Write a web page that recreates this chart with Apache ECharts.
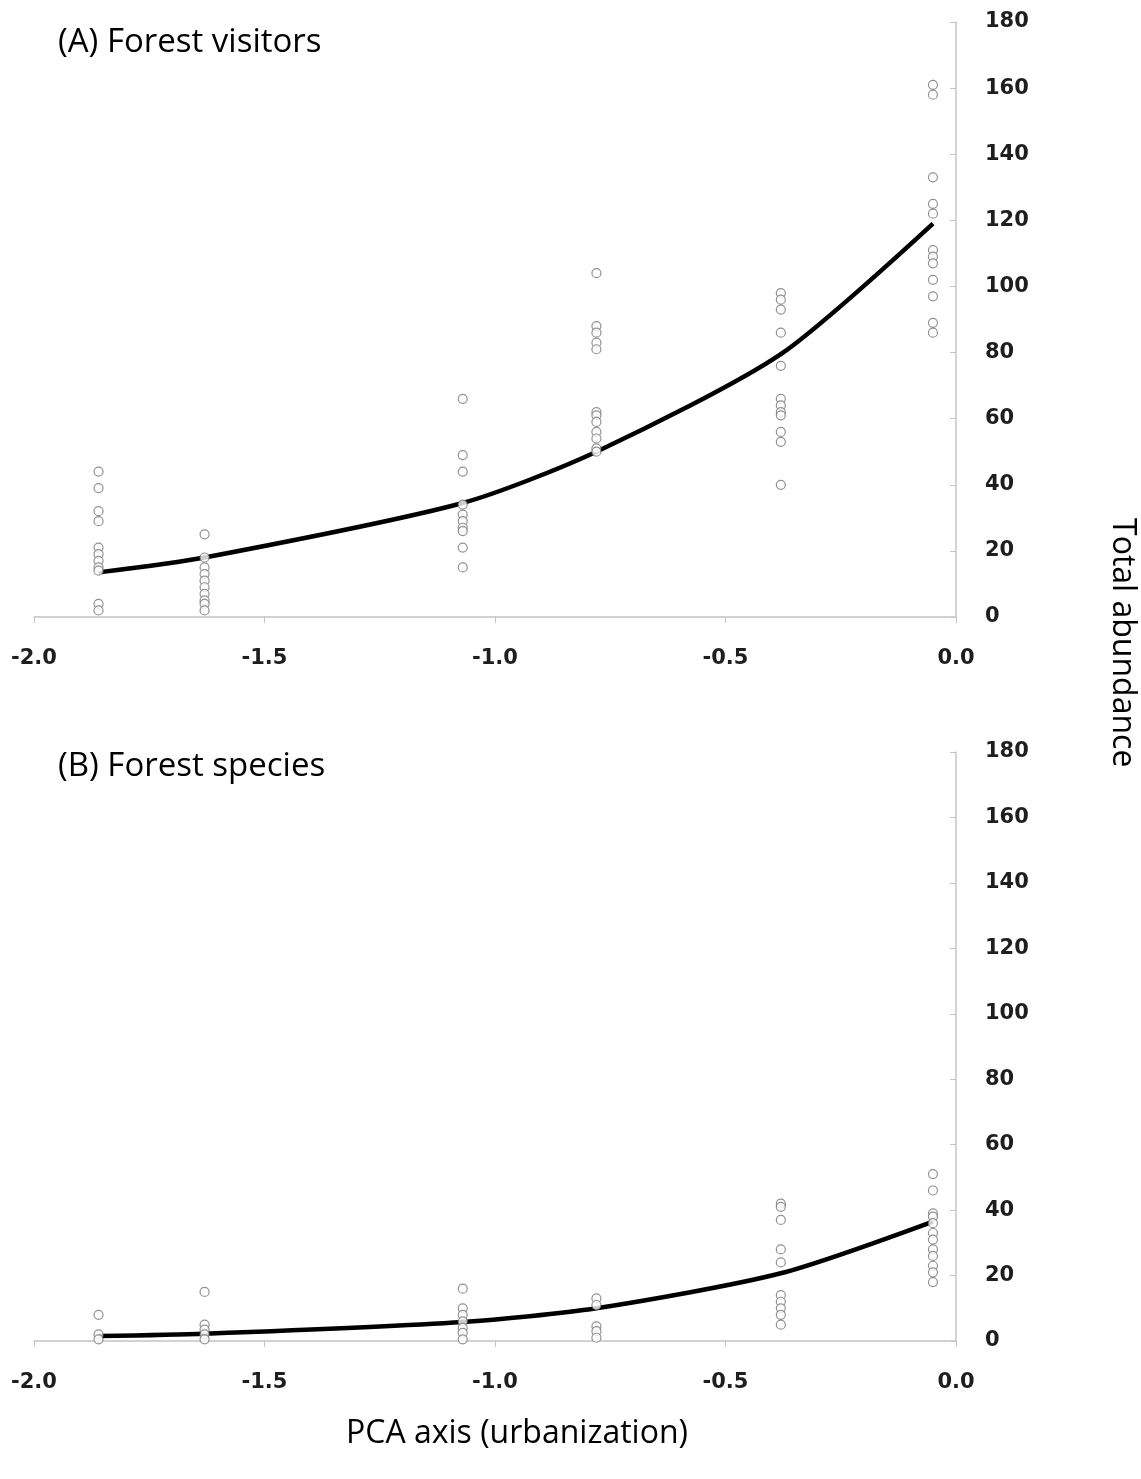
<!DOCTYPE html>
<html>
<head>
<meta charset="utf-8">
<script src="https://cdn.jsdelivr.net/npm/echarts@6/dist/echarts.min.js"></script>
<style>
  html, body { margin: 0; padding: 0; background: #fff; }
  #chart { width: 1141px; height: 1479px; }
</style>
</head>
<body>
<div id="chart"></div>
<script>
// PCA positions of the six site groups
const sitePca = [-1.86, -1.63, -1.07, -0.78, -0.38, -0.05];

// (A) forest visitors, observed abundances per site group
const visitorsObs = [
  [44, 39, 32, 29, 21, 19, 17, 15, 14, 4, 2],
  [25, 18, 15, 13, 11, 9, 7, 5, 4, 2],
  [66, 49, 44, 34, 31, 29, 27, 26, 21, 15],
  [104, 88, 86, 83, 81, 62, 61, 59, 56, 54, 51, 50],
  [98, 96, 93, 86, 76, 66, 64, 62, 61, 56, 53, 40],
  [161, 158, 133, 125, 122, 111, 109, 107, 102, 97, 89, 86]
];
const visitorsFit = [13.5, 18, 34.5, 50, 79.5, 119];

// (B) forest species
const speciesObs = [
  [8, 2, 0.5],
  [15, 5, 3.5, 2, 0.5],
  [16, 10, 8, 6, 4, 2.5, 0.5],
  [13, 11, 4.5, 3, 1],
  [42, 41, 37, 28, 24, 14, 12, 10, 8, 5],
  [51, 46, 39, 38, 36, 33, 31, 28, 26, 23, 21, 18]
];
const speciesFit = [1.5, 2.2, 5.8, 10, 20.7, 36.5];

const xTicks = { min: -2, max: 0, interval: 0.5 };
const yTicks = { min: 0, max: 180, interval: 20 };

function toPoints(groups) {
  const pts = [];
  groups.forEach((vals, i) => vals.forEach(v => pts.push([sitePca[i], v])));
  return pts;
}

const axisGray = '#c4c4c4';
const tickFont = { fontFamily: 'DejaVu Sans', fontWeight: 'bold', fontSize: 21, color: '#1e1e1e' };

function xAxisFor(gridIndex) {
  return {
    type: 'value', gridIndex, ...xTicks,
    axisLine: { show: true, onZero: false, lineStyle: { color: axisGray, width: 1.5 } },
    axisTick: { show: true, length: 6, lineStyle: { color: axisGray } },
    splitLine: { show: false },
    axisLabel: { ...tickFont, margin: 31, formatter: v => v.toFixed(1) }
  };
}

function yAxisFor(gridIndex) {
  return {
    type: 'value', gridIndex, position: 'right', ...yTicks,
    axisLine: { show: true, lineStyle: { color: axisGray, width: 1.5 } },
    axisTick: { show: true, inside: true, length: 6, lineStyle: { color: axisGray } },
    splitLine: { show: false },
    axisLabel: { ...tickFont, margin: 29, align: 'left' }
  };
}

function scatterSeries(idx, groups) {
  return {
    type: 'scatter', xAxisIndex: idx, yAxisIndex: idx, z: 3,
    symbol: 'circle', symbolSize: 9,
    itemStyle: { color: '#fff', borderColor: '#777', borderWidth: 1.2 },
    data: toPoints(groups)
  };
}

function fitSeries(idx, fit) {
  return {
    type: 'line', xAxisIndex: idx, yAxisIndex: idx, z: 2,
    smooth: 0.25, showSymbol: false,
    lineStyle: { color: '#000', width: 4.5 },
    data: fit.map((v, i) => [sitePca[i], v])
  };
}

const labelFont = { fontFamily: 'Open Sans', fontSize: 32, fill: '#000' };

const chart = echarts.init(document.getElementById('chart'));
chart.setOption({
  animation: false,
  backgroundColor: '#fff',
  grid: [
    { left: 34, right: 185, top: 22, bottom: 862 },
    { left: 34, right: 185, top: 752, bottom: 138 }
  ],
  xAxis: [xAxisFor(0), xAxisFor(1)],
  yAxis: [yAxisFor(0), yAxisFor(1)],
  series: [
    fitSeries(0, visitorsFit),
    scatterSeries(0, visitorsObs),
    fitSeries(1, speciesFit),
    scatterSeries(1, speciesObs)
  ],
  graphic: [
    { type: 'text', left: 58, top: 26, style: { ...labelFont, fontSize: 33, text: '(A) Forest visitors' } },
    { type: 'text', left: 58, top: 750, style: { ...labelFont, fontSize: 33, text: '(B) Forest species' } },
    { type: 'text', x: 517, y: 1434, style: { ...labelFont, text: 'PCA axis (urbanization)', align: 'center', verticalAlign: 'middle' } },
    { type: 'text', x: 1122, y: 518, rotation: -Math.PI / 2, style: { ...labelFont, text: 'Total abundance', align: 'left', verticalAlign: 'middle' } }
  ]
});
</script>
</body>
</html>
